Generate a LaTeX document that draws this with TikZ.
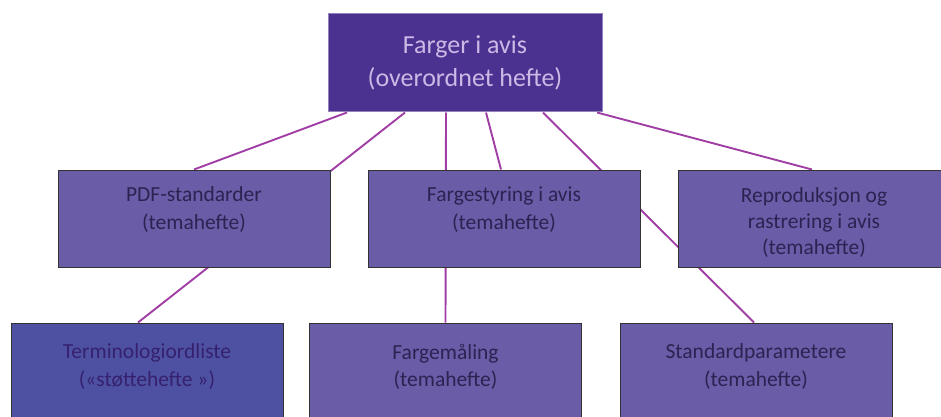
\documentclass[tikz,border=0pt]{standalone}
\usepackage{fontspec}
\setmainfont{Carlito}
\usetikzlibrary{backgrounds}

\definecolor{hovedlilla}{HTML}{4B3190}
\definecolor{temalilla}{HTML}{6A5CA6}
\definecolor{stottelilla}{HTML}{4E51A2}
\definecolor{linjefarge}{HTML}{A03EA6}
\definecolor{lystekst}{HTML}{CBB9E6}
\definecolor{morktekst}{HTML}{2C2352}
\definecolor{stottetekst}{HTML}{36216F}

\tikzset{
  boks/.style={draw=black!80, line width=1pt, fill=temalilla, minimum width=272pt, minimum height=97pt, inner sep=0pt},
  tekst/.style={text=morktekst, align=center, anchor=north, font=\fontsize{21.5}{27.5}\selectfont},
  linje/.style={draw=linjefarge, line width=1.9pt}
}

\begin{document}
\begin{tikzpicture}[x=1pt,y=-1pt]
    \clip (0,0) rectangle (941,417);
    \node[boks, fill=hovedlilla, draw=hovedlilla!60!white, minimum width=274pt, minimum height=98pt, text=lystekst, align=center, font=\fontsize{26}{33}\selectfont] (farger) at (465,63) {Farger i avis\\(overordnet hefte)};

    \node[boks] (pdf) at (194,218.5) {};
    \node[boks] (styring) at (504,218.5) {};
    \node[boks] (repro) at (814,218.5) {};
    \node[boks, fill=stottelilla] (ordliste) at (147,371.5) {};
    \node[boks] (maling) at (445.5,371.5) {};
    \node[boks] (param) at (756,371.5) {};

    \node[tekst] (pdftekst) at ([yshift=-14pt]pdf.north) {PDF-standarder\\(temahefte)};
    \node[tekst] (styringtekst) at ([yshift=-14pt]styring.north) {Fargestyring i avis\\(temahefte)};
    \node[tekst, font=\fontsize{21.5}{26}\selectfont] (reprotekst) at ([yshift=-15pt]repro.north) {Reproduksjon og\\rastrering i avis\\(temahefte)};
    \node[tekst, text=stottetekst] (ordlistetekst) at ([yshift=-18pt]ordliste.north) {Terminologiordliste\\(«støttehefte »)};
    \node[tekst] (malingtekst) at ([yshift=-18pt]maling.north) {Fargemåling\\(temahefte)};
    \node[tekst] (paramtekst) at ([yshift=-18pt]param.north) {Standardparametere\\(temahefte)};

    \begin{scope}[on background layer]
        \draw[linje] ([xshift=-118pt]farger.south) -- (pdf.north);
        \draw[linje] ([xshift=-60pt]farger.south) -- ([xshift=-9pt]ordliste.north);
        \draw[linje] ([xshift=-19pt]farger.south) -- (maling.north);
        \draw[linje] ([xshift=21pt]farger.south) -- ([xshift=-3pt]styring.north);
        \draw[linje] ([xshift=78pt]farger.south) -- ([xshift=-2pt]param.north);
        \draw[linje] ([xshift=132pt]farger.south) -- ([xshift=-2pt]repro.north);
    \end{scope}
\end{tikzpicture}
\end{document}
